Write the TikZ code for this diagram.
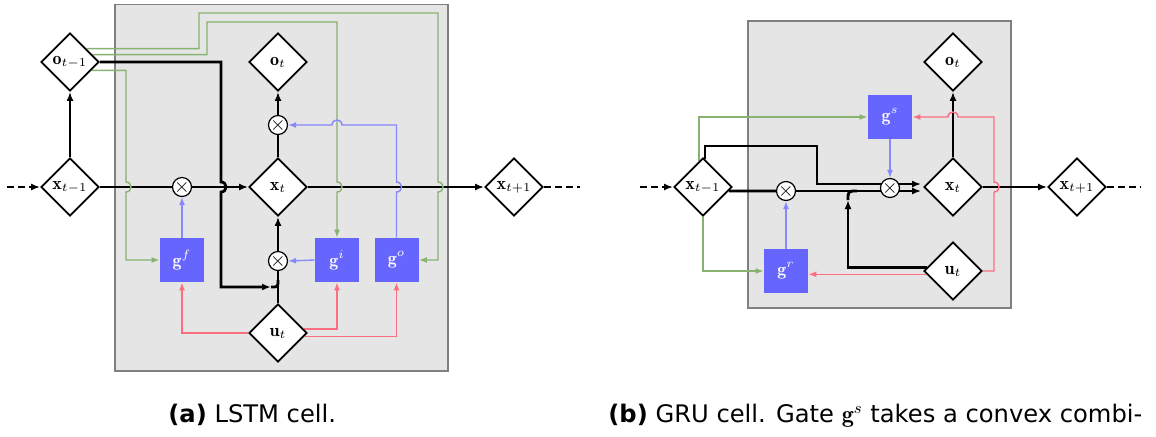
\documentclass[tikz,border=0pt]{standalone}
\usepackage{amsmath}
\usepackage{fontspec}
\newfontfamily\capfont{DejaVu Sans}
\usetikzlibrary{shapes.geometric,arrows.meta}
\definecolor{cellgray}{RGB}{229,229,229}
\definecolor{cellborder}{RGB}{128,128,128}
\definecolor{gateblue}{RGB}{102,102,255}
\definecolor{lineblue}{RGB}{135,135,255}
\definecolor{linered}{RGB}{250,110,128}
\definecolor{linegreen}{RGB}{136,178,112}
\pgfdeclarelayer{bglayer}
\pgfdeclarelayer{edgelayer}
\pgfsetlayers{bglayer,edgelayer,main}
\newcommand{\multsym}{\makebox[0pt]{\raisebox{-0.25em}[0pt][0pt]{$\times$}}}
\tikzset{
  statenode/.style={diamond, draw, line width=0.9pt, fill=white, minimum size=29pt, inner sep=0pt, font=\small},
  multnode/.style={circle, draw, line width=0.6pt, fill=white, minimum size=9.5pt, inner sep=0pt, font=\normalsize},
  gatenode/.style={rectangle, fill=gateblue, minimum size=22pt, inner sep=0pt, text=white, font=\small},
  cellbox/.style={fill=cellgray, draw=cellborder, line width=0.6pt},
  thk/.style={line width=1.4pt},
  thkarrow/.style={thk, -{Latex[length=4.5pt,width=3.5pt]}},
  dasharrow/.style={thk, dash pattern=on 3.5pt off 2pt, -{Latex[length=4.5pt,width=3.5pt]}},
  dashline/.style={thk, dash pattern=on 3.5pt off 2pt},
  grn/.style={draw=linegreen, line width=0.7pt, -{Latex[length=4pt,width=3pt]}},
  blu/.style={draw=lineblue, line width=0.7pt, -{Latex[length=4pt,width=3pt]}},
  rd/.style={draw=linered, line width=0.7pt, -{Latex[length=4pt,width=3pt]}},
  captext/.style={anchor=base west, inner sep=0pt, font=\capfont\fontsize{12.1}{14}\selectfont}
}
\begin{document}
\begin{tikzpicture}[x=0.5pt,y=-0.5pt]
\useasboundingbox (0,0) rectangle (1156,436);
% ---------------- LSTM ----------------
\node[statenode] (om1) at (70,62) {$\mathbf{o}_{t-1}$};
\node[statenode] (xm1) at (70,187) {$\mathbf{x}_{t-1}$};
\node[statenode] (xt) at (278,187) {$\mathbf{x}_{t}$};
\node[statenode] (ot) at (278,62) {$\mathbf{o}_{t}$};
\node[statenode] (ut) at (278,333) {$\mathbf{u}_{t}$};
\node[statenode] (xp1) at (514,187) {$\mathbf{x}_{t+1}$};
\node[multnode] (mf) at (182,187) {\multsym};
\node[multnode] (mo) at (278,125) {\multsym};
\node[multnode] (mi) at (278,261) {\multsym};
\node[gatenode] (gf) at (182,260) {$\mathbf{g}^{f}$};
\node[gatenode] (gi) at (337,260) {$\mathbf{g}^{i}$};
\node[gatenode] (go) at (396.5,260) {$\mathbf{g}^{o}$};
\coordinate (inA) at (7,187);
\coordinate (outA) at (580,187);
% ---------------- GRU ----------------
\node[statenode] (xm1b) at (703,187) {$\mathbf{x}_{t-1}$};
\node[statenode] (xtb) at (953,187) {$\mathbf{x}_{t}$};
\node[statenode] (otb) at (953,62) {$\mathbf{o}_{t}$};
\node[statenode] (utb) at (953,271) {$\mathbf{u}_{t}$};
\node[statenode] (xp1b) at (1077,187) {$\mathbf{x}_{t+1}$};
\node[multnode] (mr) at (786,191) {\multsym};
\node[multnode] (ms) at (890,188) {\multsym};
\node[gatenode] (gs) at (890,117) {$\mathbf{g}^{s}$};
\node[gatenode] (gr) at (786,271) {$\mathbf{g}^{r}$};
\coordinate (inB) at (640,187);
\coordinate (outB) at (1140,187);
% captions
\node[captext] (capA) at (168,422) {\textbf{(a)} LSTM cell.};
\node[captext] (capB) at (608,422) {\textbf{(b)} GRU cell. Gate $\mathbf{g}^{s}$ takes a convex combi-};
\begin{pgfonlayer}{bglayer}
\draw[cellbox] (115,4.5) rectangle (448,371);
\draw[cellbox] (748,21) rectangle (1011,308);
\end{pgfonlayer}
\begin{pgfonlayer}{edgelayer}
% LSTM black
\draw[thkarrow] (xm1.north) -- (om1.south);
\draw[thk] (xm1.east) -- (mf.west);
\draw[thkarrow] (mf.east) -- (xt.west);
\draw[thkarrow] (om1.east) -- (221,62) -- (221,182) .. controls (227.7,182) and (227.7,192) .. (221,192) -- (221,287) -- (271,287);
\draw[thk] (271,287) .. controls (278,287) .. (278,280);
\draw[thk] (ut.north) -- (mi.south);
\draw[thkarrow] (mi.north) -- (xt.south);
\draw[thk] (xt.north) -- (mo.south);
\draw[thkarrow] (mo.north) -- (ot.south);
\draw[thkarrow] (xt.east) -- (xp1.west);
\draw[dasharrow] (inA) -- (xm1.west);
\draw[dashline] (xp1.east) -- (outA);
% LSTM green
\draw[grn] (om1.-21) -| (126,182) .. controls (132.7,182) and (132.7,192) .. (126,192) |- (gf.west);
\draw[grn] (om1.18) -| (207,22) -| (337,182) .. controls (343.7,182) and (343.7,192) .. (337,192) -- (gi.north);
\draw[grn] (om1.39) -| (199,13) -| (438,182) .. controls (444.7,182) and (444.7,192) .. (438,192) |- (go.east);
% LSTM blue
\draw[blu] (gf.north) -- (mf.south);
\draw[blu] (gi.west) -- (mi.east);
\draw[blu] (go.north) -- (396.5,192) .. controls (403.2,192) and (403.2,182) .. (396.5,182) |- (342,125) .. controls (342,118.3) and (332,118.3) .. (332,125) -- (mo.east);
% LSTM red
\draw[rd] (ut.west) -| (gf.south);
\draw[rd] (ut.9) -| (gi.south);
\draw[rd] (ut.-7) -| (go.south);
% GRU black
\draw[thkarrow] (xm1b.86) |- (817,146) |- ([xshift=-1pt,yshift=1.5pt]xtb.west);
\draw[thk] (xm1b.-9) -- (mr.west);
\draw[thkarrow] (mr.east) -- ([xshift=-1pt,yshift=-2pt]xtb.west);
\draw[thkarrow] (utb.172) -| (848,200);
\draw[thk] (848,200) .. controls (848,191) .. (857,191);
\draw[thkarrow] (xtb.north) -- (otb.south);
\draw[thkarrow] (xtb.east) -- (xp1b.west);
\draw[dasharrow] (inB) -- (xm1b.west);
\draw[dashline] (xp1b.east) -- (outB);
% GRU blue
\draw[blu] (gs.south) -- (ms.north);
\draw[blu] (gr.north) -- (mr.south);
% GRU green
\draw[grn] (xm1b.99) |- (gs.west);
\draw[grn] (xm1b.south) |- (gr.west);
% GRU red
\draw[rd] (utb.east) -| (994,192) .. controls (1000.7,192) and (1000.7,182) .. (994,182) |- (958,117) .. controls (958,110.3) and (948,110.3) .. (948,117) -- (gs.east);
\draw[rd] (utb.-173) -- (gr.east |- utb.-173);
\end{pgfonlayer}
\end{tikzpicture}
\end{document}
